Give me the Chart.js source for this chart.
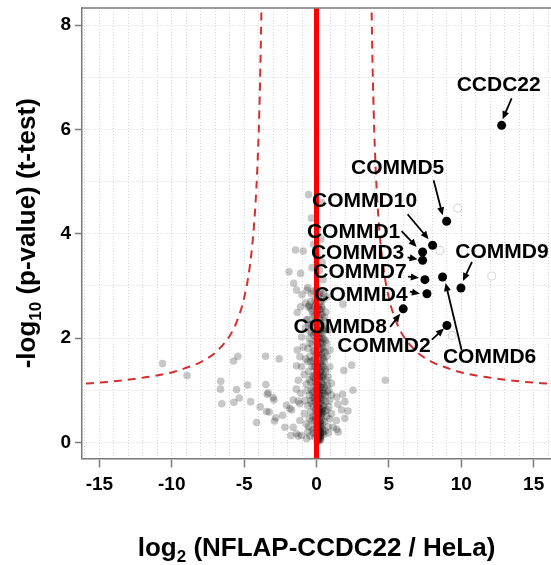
<!DOCTYPE html>
<html>
<head>
<meta charset="utf-8">
<script src="https://cdn.jsdelivr.net/npm/chart.js@4"></script>
<style>
  html, body { margin: 0; padding: 0; background: #fff; }
  #wrap { width: 551px; height: 565px; }
</style>
</head>
<body>
<div id="wrap"><canvas id="volcano" width="551" height="565"></canvas></div>
<script>
// named hits (COMMD / CCDC22 complex)
const hitNames = ['CCDC22', 'COMMD5', 'COMMD10', 'COMMD1', 'COMMD3', 'COMMD7', 'COMMD6', 'COMMD9', 'COMMD4', 'COMMD8', 'COMMD2'];
const hitX = [12.79, 8.99, 8.02, 7.33, 7.33, 7.49, 8.71, 9.98, 7.63, 5.99, 9.01];
const hitY = [6.08, 4.24, 3.78, 3.65, 3.49, 3.12, 3.17, 2.96, 2.85, 2.56, 2.24];

// faint halo marks next to some hits
const haloX = [9.75, 8.53, 12.1, 9.38];
const haloY = [4.49, 3.68, 3.19, 2.05];

// significance threshold curve (right branch, mirrored for the left)
const thresholdX = [3.78, 3.85, 3.95, 4.1, 4.3, 4.6, 5, 5.5, 6, 7, 8, 9, 10, 12, 14, 16.3];
const thresholdY = [8.78, 7.56, 6.34, 5.18, 4.22, 3.39, 2.77, 2.32, 2.04, 1.72, 1.54, 1.43, 1.34, 1.24, 1.17, 1.12];

// axes
const xMin = -16.2, xMax = 16.2;
const yMin = -0.31, yMax = 8.33;
const xTickLabels = [-15, -10, -5, 0, 5, 10, 15];
const yTickLabels = [0, 2, 4, 6, 8];

// background proteins [log2 ratio, -log10 p]
const background = [
  // far left
  [-10.64, 1.51], [-8.94, 1.28], [-6.61, 1.17], [-6.63, 1.02], [-6.54, 0.74], [-5.73, 1.56], [-5.43, 1.65],
  [-5.52, 1.01], [-5.34, 0.85], [-5.71, 0.77], [-4.76, 1.10], [-4.55, 0.78], [-3.52, 1.65], [-3.5, 1.11],
  [-3.34, 0.95], [-3.41, 0.92], [-2.99, 0.86], [-2.94, 0.81], [-3.89, 0.68], [-3.45, 0.59], [-3.27, 0.58],
  [-4.14, 0.38], [-2.81, 0.47], [-2.9, 0.41], [-2.58, 1.6], [-2.34, 0.52],
  // near-cluster left
  [-1.84, 0.65], [-2.07, 0.71], [-1.61, 0.81], [-1.72, 0.62], [-2.18, 0.29], [-1.61, 0.29], [-1.38, 0.17],
  [-1.03, 0.13], [-0.68, 0.07], [-1.15, 0.42], [-1.26, 1.19], [-1.4, 1.02], [-1.03, 1.45], [-0.92, 1.83],
  [-1.03, 2.02], [-0.68, 2.35], [-0.57, 2.6], [-1.77, 0.13], [-1.26, 0.12], [-1.15, 0.74], [-1.08, 0.94],
  [-1.26, 0.79], [-1.38, 1.47], [-1.15, 1.64], [-1.33, 1.77],
  // upper left of cluster
  [-1.45, 3.69], [-0.92, 3.67], [-1.9, 3.27], [-1.1, 3.24], [-1.57, 3.05], [-1.38, 2.92], [-1.0, 2.83],
  [-0.66, 2.92], [-0.76, 2.67], [-1.1, 2.6], [-0.41, 2.57], [-1.33, 2.49], [0.38, 2.57], [-0.55, 4.75],
  // right side
  [4.76, 1.19], [2.52, 1.0], [2.17, 0.6], [1.48, 0.73], [1.04, 0.91], [1.8, 0.92], [1.4, 0.25], [0.82, 0.18],
  [2.43, 1.48], [1.96, 0.78], [1.73, 0.62], [1.96, 0.46], [1.5, 0.2], [1.15, 0.29], [1.38, 0.42], [1.04, 0.55],
  [1.38, 0.87], [1.04, 1.13], [0.93, 1.45], [0.93, 1.77], [0.81, 2.15], [1.83, 2.65], [0.73, 2.79], [1.89, 1.38],
  // cluster 0 - 0.3
  [0.05, 0.02], [0.12, 0.04], [0.2, 0.03], [0.08, 0.08], [0.15, 0.1], [0.25, 0.07], [0.3, 0.12], [0.02, 0.14],
  [0.18, 0.16], [0.1, 0.2], [0.28, 0.2], [0.35, 0.18], [-0.1, 0.1], [-0.2, 0.18], [0.22, 0.25], [0.05, 0.27],
  [0.4, 0.26], [-0.3, 0.24], [0.5, 0.15], [-0.45, 0.12], [0.6, 0.22], [-0.6, 0.2], [0.15, 0.3], [0.32, 0.3],
  [0.15, 0.05], [0.22, 0.12], [0.1, 0.15], [0.3, 0.05], [0.18, 0.28],
  // cluster 0.3 - 0.6
  [0.0, 0.33], [0.1, 0.36], [0.25, 0.38], [0.4, 0.34], [-0.15, 0.38], [-0.3, 0.42], [0.55, 0.4], [0.2, 0.44],
  [0.05, 0.47], [0.35, 0.48], [-0.05, 0.52], [0.15, 0.55], [0.28, 0.53], [0.45, 0.56], [-0.25, 0.5], [-0.5, 0.45],
  [0.7, 0.5], [-0.4, 0.58], [0.6, 0.6], [0.1, 0.6], [-0.7, 0.35], [0.8, 0.3], [-0.85, 0.55], [0.9, 0.45], [0.25, 0.4],
  // cluster 0.6 - 1.0
  [0.0, 0.63], [0.2, 0.66], [0.35, 0.64], [-0.2, 0.68], [0.5, 0.7], [0.1, 0.72], [-0.35, 0.74], [0.3, 0.76],
  [-0.1, 0.78], [0.65, 0.78], [0.45, 0.82], [0.15, 0.84], [-0.25, 0.86], [0.0, 0.88], [0.3, 0.9], [-0.5, 0.9],
  [0.55, 0.93], [0.2, 0.95], [-0.15, 0.97], [0.75, 0.97], [-0.6, 0.7], [0.85, 0.68], [-0.8, 0.8], [0.4, 1.0], [-0.35, 1.0],
  // cluster 1.0 - 1.5
  [0.05, 1.03], [0.25, 1.06], [-0.2, 1.08], [0.5, 1.1], [0.1, 1.13], [-0.4, 1.15], [0.35, 1.17], [0.65, 1.2],
  [-0.05, 1.22], [0.2, 1.25], [-0.3, 1.27], [0.45, 1.3], [0.0, 1.33], [0.3, 1.35], [-0.55, 1.36], [0.6, 1.4],
  [0.15, 1.42], [-0.15, 1.45], [0.4, 1.47], [0.8, 1.25], [-0.7, 1.12], [-0.85, 1.3],
  // cluster 1.5 - 2.0
  [0.05, 1.52], [0.3, 1.55], [-0.25, 1.57], [0.5, 1.6], [0.15, 1.63], [-0.45, 1.65], [0.35, 1.68], [0.0, 1.7],
  [0.6, 1.73], [-0.15, 1.75], [0.25, 1.78], [-0.6, 1.8], [0.45, 1.82], [0.1, 1.85], [-0.3, 1.88], [0.7, 1.9],
  [0.3, 1.93], [-0.05, 1.95], [0.5, 1.98], [-0.75, 1.6],
  // cluster 2.0 - 2.5
  [0.15, 2.02], [-0.2, 2.05], [0.4, 2.08], [0.0, 2.1], [-0.45, 2.13], [0.25, 2.15], [0.6, 2.18], [-0.1, 2.2],
  [0.35, 2.23], [-0.35, 2.26], [0.1, 2.3], [0.5, 2.33], [-0.6, 2.35], [0.2, 2.38], [-0.15, 2.42], [0.4, 2.45],
  [0.0, 2.48], [-0.75, 2.2],
  // cluster 2.5 - 3.0
  [-0.3, 2.52], [0.25, 2.55], [0.1, 2.6], [-0.5, 2.63], [0.35, 2.7], [-0.1, 2.73], [0.15, 2.8], [-0.35, 2.85],
  [0.3, 2.88], [0.0, 2.93], [-0.6, 2.97],
  // above 3
  [0.46, 3.12], [0.2, 3.3], [-0.3, 3.35], [0.4, 3.45], [0.05, 3.55], [-0.2, 3.8], [0.3, 3.9], [0.1, 4.1],
  [-0.35, 4.3], [0.35, 4.6],
  // extra density near zero
  [0.12, 0.5], [0.3, 0.58], [0.08, 0.8], [0.22, 1.0], [0.38, 1.12], [0.18, 1.2], [0.02, 1.38], [0.28, 1.5],
  [0.4, 1.62], [0.12, 1.72], [0.22, 1.88], [0.38, 2.0], [0.05, 2.18], [0.3, 2.3], [0.2, 2.55], [-0.05, 2.65],
  [0.28, 0.1], [0.18, 0.22], [0.38, 0.42], [-0.08, 0.62], [0.45, 0.95], [0.28, 1.28], [-0.12, 1.6], [0.48, 1.45],
  [0.2, 2.0], [-0.2, 2.3], [0.1, 2.45], [0.35, 2.6], [0.12, 0.12], [0.26, 0.32], [0.02, 0.7], [0.32, 0.82],
  [0.12, 1.1], [-0.05, 1.15], [0.38, 1.8], [0.0, 2.0], [0.25, 2.7], [-0.25, 0.95], [-0.1, 1.3], [0.55, 1.55],
  [0.6, 0.9], [-0.4, 1.55], [-0.5, 2.0], [0.55, 2.4], [0.45, 2.75], [-0.2, 2.9],
  [-0.55, 0.3], [-0.4, 0.8], [-0.65, 1.0], [-0.5, 1.2], [-0.3, 1.45], [-0.6, 1.55], [-0.45, 1.9], [-0.35, 2.1],
  [-0.55, 2.25], [-0.25, 2.45], [-0.4, 2.7], [0.7, 0.62], [0.75, 1.1], [0.65, 1.35], [0.72, 1.65], [0.6, 1.95],
  [0.55, 2.2], [0.65, 2.5], [0.5, 2.85], [0.85, 1.0], [0.9, 0.8], [0.05, 0.4], [0.15, 0.65], [0.25, 0.85],
  [0.05, 0.98], [0.35, 1.25], [0.1, 1.5], [0.2, 1.68], [0.3, 2.1], [0.1, 2.25], [0.2, 2.85], [0.45, 0.2],
  [0.35, 0.55], [0.45, 0.7], [0.55, 1.05], [0.45, 1.25], [0.35, 1.4], [0.5, 1.75], [0.4, 1.9], [0.45, 2.15],
  [0.3, 2.45], [-0.15, 0.25], [-0.05, 0.45], [-0.12, 0.85], [-0.02, 1.08], [-0.2, 1.25], [-0.08, 1.45],
  [-0.22, 1.75], [-0.1, 2.1], [-0.02, 2.35], [-0.15, 2.6], [0.12, 0.92], [0.22, 1.35], [0.08, 1.92],
  [0.15, 2.15], [0.22, 0.58], [0.32, 1.05], [0.4, 0.62], [0.18, 0.75], [0.08, 0.25], [0.25, 0.18]
];

// label placement: text centre offset and arrow tail/head offsets from the point, in px
const labelLayout = [
  { tx: -3, ty: -40, ax: 10, ay: -27, hx: 1, hy: -6 },
  { tx: -49, ty: -53, ax: -13, ay: -41, hx: -4, hy: -6 },
  { tx: -68, ty: -44, ax: -25, ay: -31, hx: -4, hy: -6 },
  { tx: -69, ty: -20, ax: -21, ay: -21, hx: -6, hy: -5 },
  { tx: -65, ty: -7, ax: -15, ay: -3, hx: -5, hy: -1 },
  { tx: -65, ty: -7, ax: -17, ay: -3, hx: -6, hy: -2 },
  { tx: 47, ty: 80, ax: 19, ay: 73, hx: 3, hy: 6 },
  { tx: 41, ty: -36, ax: 11, ay: -26, hx: 2, hy: -7 },
  { tx: -66, ty: 1, ax: -17, ay: -2, hx: -7, hy: 0 },
  { tx: -63, ty: 18, ax: -13, ay: 18, hx: -3, hy: 5 },
  { tx: -63, ty: 21, ax: -15, ay: 14, hx: -3, hy: 3 }
];

const FONT = '"Liberation Sans", Arial, sans-serif';
const AXIS_GREY = '#7a7a7a';

function arrow(ctx, x1, y1, x2, y2) {
  const ang = Math.atan2(y2 - y1, x2 - x1);
  const len = 8, half = 3.5;
  ctx.beginPath();
  ctx.moveTo(x1, y1);
  ctx.lineTo(x2 - Math.cos(ang) * len * 0.7, y2 - Math.sin(ang) * len * 0.7);
  ctx.stroke();
  ctx.beginPath();
  ctx.moveTo(x2, y2);
  ctx.lineTo(x2 - Math.cos(ang) * len + Math.sin(ang) * half, y2 - Math.sin(ang) * len - Math.cos(ang) * half);
  ctx.lineTo(x2 - Math.cos(ang) * len - Math.sin(ang) * half, y2 - Math.sin(ang) * len + Math.cos(ang) * half);
  ctx.closePath();
  ctx.fill();
}

const decorations = {
  id: 'decorations',
  afterDatasetsDraw(chart) {
    const { ctx, chartArea: a, scales: { x, y } } = chart;
    ctx.save();
    // top frame line
    ctx.strokeStyle = AXIS_GREY;
    ctx.lineWidth = 1.5;
    ctx.beginPath();
    ctx.moveTo(a.left, a.top);
    ctx.lineTo(a.right, a.top);
    ctx.stroke();

    // hit labels with arrows
    ctx.fillStyle = '#000';
    ctx.strokeStyle = '#000';
    ctx.lineWidth = 1.8;
    ctx.font = 'bold 21px ' + FONT;
    ctx.textAlign = 'center';
    ctx.textBaseline = 'middle';
    hitNames.forEach((name, i) => {
      const px = x.getPixelForValue(hitX[i]);
      const py = y.getPixelForValue(hitY[i]);
      const l = labelLayout[i];
      ctx.fillText(name, px + l.tx, py + l.ty);
      arrow(ctx, px + l.ax, py + l.ay, px + l.hx, py + l.hy);
    });

    // x axis title with subscript
    const xc = (a.left + a.right) / 2;
    const main = 'bold 26px ' + FONT, sub = 'bold 17px ' + FONT;
    ctx.textAlign = 'left';
    ctx.textBaseline = 'alphabetic';
    ctx.font = main; const w1 = ctx.measureText('log').width;
    ctx.font = sub; const w2 = ctx.measureText('2').width;
    ctx.font = main; const w3 = ctx.measureText(' (NFLAP-CCDC22 / HeLa)').width;
    let sx = xc - (w1 + w2 + w3) / 2;
    const by = 556;
    ctx.fillText('log', sx, by); sx += w1;
    ctx.font = sub; ctx.fillText('2', sx, by + 6); sx += w2;
    ctx.font = main; ctx.fillText(' (NFLAP-CCDC22 / HeLa)', sx, by);

    // y axis title with subscript
    ctx.save();
    ctx.translate(35, (a.top + a.bottom) / 2);
    ctx.rotate(-Math.PI / 2);
    ctx.font = main; const v1 = ctx.measureText('-log').width;
    ctx.font = sub; const v2 = ctx.measureText('10').width;
    ctx.font = main; const v3 = ctx.measureText(' (p-value) (t-test)').width;
    let sy = -(v1 + v2 + v3) / 2;
    ctx.fillText('-log', sy, 0); sy += v1;
    ctx.font = sub; ctx.fillText('10', sy, 6); sy += v2;
    ctx.font = main; ctx.fillText(' (p-value) (t-test)', sy, 0);
    ctx.restore();

    ctx.restore();
  }
};

const tickFont = { family: FONT, size: 19, weight: 'bold' };

new Chart(document.getElementById('volcano'), {
  type: 'scatter',
  data: {
    datasets: [
      {
        label: 'proteins',
        data: background.map(p => ({ x: p[0], y: p[1] })),
        backgroundColor: 'rgba(0,0,0,0.22)',
        borderWidth: 0,
        pointRadius: 3.8,
        order: 5
      },
      {
        label: 'zero',
        type: 'line',
        data: [{ x: 0, y: yMin }, { x: 0, y: yMax }],
        borderColor: '#ff0000',
        borderWidth: 5,
        pointRadius: 0,
        order: 4
      },
      {
        label: 'threshold right',
        type: 'line',
        data: thresholdX.map((v, i) => ({ x: v, y: thresholdY[i] })),
        borderColor: '#d23030',
        borderWidth: 2,
        borderDash: [8, 6],
        pointRadius: 0,
        cubicInterpolationMode: 'monotone',
        order: 3
      },
      {
        label: 'threshold left',
        type: 'line',
        data: thresholdX.map((v, i) => ({ x: -v, y: thresholdY[i] })),
        borderColor: '#d23030',
        borderWidth: 2,
        borderDash: [8, 6],
        pointRadius: 0,
        cubicInterpolationMode: 'monotone',
        order: 3
      },
      {
        label: 'halo',
        data: haloX.map((v, i) => ({ x: v, y: haloY[i] })),
        backgroundColor: '#fff',
        borderColor: 'rgba(0,0,0,0.15)',
        borderWidth: 1.2,
        pointRadius: 4,
        order: 2
      },
      {
        label: 'hits',
        data: hitX.map((v, i) => ({ x: v, y: hitY[i] })),
        backgroundColor: '#000',
        borderWidth: 0,
        pointRadius: 4.5,
        order: 1
      }
    ]
  },
  options: {
    responsive: false,
    devicePixelRatio: 1,
    animation: false,
    layout: { autoPadding: false, padding: { top: 8, left: 0, right: 0, bottom: 0 } },
    plugins: { legend: { display: false }, tooltip: { enabled: false } },
    scales: {
      x: {
        type: 'linear',
        min: xMin,
        max: xMax,
        afterFit: s => { s.height = 106.5; s.paddingLeft = 0; s.paddingRight = 0; },
        ticks: {
          stepSize: 1,
          includeBounds: false,
          autoSkip: false,
          maxRotation: 0,
          padding: 6,
          color: '#000',
          font: tickFont,
          callback: v => xTickLabels.includes(v) ? String(v) : ''
        },
        grid: {
          color: '#d6d6d6',
          lineWidth: 1,
          tickLength: 9,
          tickWidth: 1.5,
          tickColor: c => xTickLabels.includes(c.tick.value) ? AXIS_GREY : 'rgba(0,0,0,0)'
        },
        border: { color: AXIS_GREY, width: 1.5, dash: [1, 2] }
      },
      y: {
        type: 'linear',
        min: yMin,
        max: yMax,
        afterFit: s => { s.width = 82; s.paddingTop = 0; s.paddingBottom = 0; },
        ticks: {
          stepSize: 1,
          includeBounds: false,
          autoSkip: false,
          padding: 4,
          color: '#000',
          font: tickFont,
          callback: v => yTickLabels.includes(v) ? String(v) : ''
        },
        grid: {
          color: '#d6d6d6',
          lineWidth: 1,
          tickLength: 7,
          tickWidth: 1.5,
          tickColor: c => yTickLabels.includes(c.tick.value) ? AXIS_GREY : 'rgba(0,0,0,0)'
        },
        border: { color: AXIS_GREY, width: 1.5, dash: [1, 2] }
      }
    }
  },
  plugins: [decorations]
});
</script>
</body>
</html>
